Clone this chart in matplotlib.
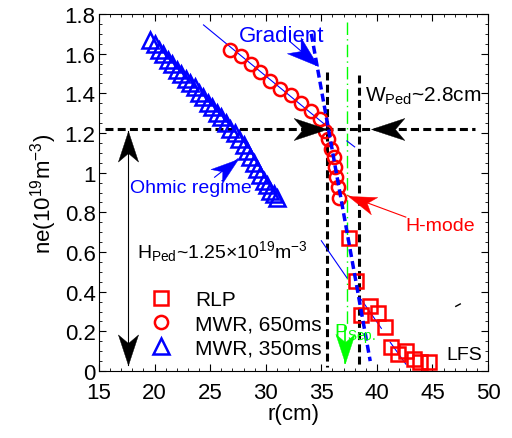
import numpy as np
import matplotlib
matplotlib.use('Agg')
import matplotlib.pyplot as plt
from matplotlib.ticker import MultipleLocator
from matplotlib.markers import MarkerStyle
from matplotlib.path import Path
from matplotlib.transforms import Affine2D

plt.rcParams['font.family'] = ['Liberation Sans', 'DejaVu Sans']
plt.rcParams['mathtext.fontset'] = 'custom'
plt.rcParams['mathtext.rm'] = 'Liberation Sans'
plt.rcParams['mathtext.it'] = 'Liberation Sans:italic'

# RLP (squares)
rlp_r = [37.5, 38.1, 38.6, 39.4, 40.1, 40.7, 41.3, 41.9, 42.6, 43.3, 43.9, 44.7]
rlp_ne = [0.67, 0.455, 0.28, 0.33, 0.29, 0.22, 0.12, 0.085, 0.10, 0.06, 0.045, 0.045]

# MWR 650 ms (circles)
mwr650_r = [26.8, 27.8, 28.7, 29.5, 30.4, 31.3, 32.3, 33.2, 34.1, 34.9,
            35.3, 35.6, 35.9, 36.1, 36.2, 36.3, 36.5, 36.6]
mwr650_ne = [1.62, 1.59, 1.55, 1.51, 1.46, 1.42, 1.39, 1.35, 1.31, 1.27,
             1.21, 1.17, 1.12, 1.08, 1.03, 0.98, 0.93, 0.87]

# MWR 350 ms (triangles)
mwr350_r = [19.6, 20.0, 20.4, 20.8, 21.2, 21.6, 22.0, 22.4, 22.8, 23.2, 23.6,
            24.0, 24.4, 24.8, 25.2, 25.6, 26.0, 26.4, 26.8, 27.2, 27.6, 28.0,
            28.3, 28.6, 28.9, 29.2, 29.5, 29.8, 30.1, 30.4, 30.7, 31.0]
mwr350_ne = [1.67, 1.65, 1.62, 1.60, 1.57, 1.55, 1.52, 1.50, 1.47, 1.45, 1.43,
             1.40, 1.38, 1.35, 1.33, 1.30, 1.28, 1.25, 1.22, 1.20, 1.17, 1.14,
             1.11, 1.08, 1.05, 1.02, 0.99, 0.96, 0.94, 0.91, 0.89, 0.87]

# fitted lines
grad_r = [34.1, 39.4]
grad_ne = [1.70, 0.05]
core_fit_r = [24.4, 35.6, np.nan, 37.3, 38.0]
core_fit_ne = [1.745, 1.23, np.nan, 1.16, 1.13]
sol_fit_r = [35.0, 37.3, np.nan, 38.6, 40.4, np.nan, 41.2, 42.6]
sol_fit_ne = [0.657, 0.47, np.nan, 0.36, 0.215, np.nan, 0.145, 0.035]

# pedestal markers
h_ped = 1.22
ped_in = 35.55
ped_out = 38.4
r_sep = 37.3

fig = plt.figure(figsize=(5.12, 4.39), dpi=100)
ax = fig.add_axes([0.1934, 0.1526, 0.7598, 0.8132])
ax.set_xlim(15, 50)
ax.set_ylim(0, 1.8)

# notched arrow head, tip at origin pointing to +x
head_path = Path([(0, 0), (-1, 0.33), (-0.72, 0), (-1, -0.33), (0, 0)],
                 [Path.MOVETO, Path.LINETO, Path.LINETO, Path.LINETO, Path.CLOSEPOLY])


def arrow(tail, tip, color, size=31, lw=0.8, both=False):
    ax.plot([tail[0], tip[0]], [tail[1], tip[1]], color=color, lw=lw)
    ends = [(tail, tip), (tip, tail)] if both else [(tail, tip)]
    for a, b in ends:
        p1 = ax.transData.transform(a)
        p2 = ax.transData.transform(b)
        ang = np.degrees(np.arctan2(p2[1] - p1[1], p2[0] - p1[0]))
        m = MarkerStyle(head_path, transform=Affine2D().rotate_deg(ang))
        ax.plot([b[0]], [b[1]], marker=m, ms=size, color=color, mew=0.3,
                linestyle='none', zorder=4)


dash = (0, (2.6, 1.4))
ax.plot([15.5, 48.8], [h_ped, h_ped], color='k', lw=2.2, linestyle=dash)
ax.plot([ped_in, ped_in], [1.51, 0.02], color='k', lw=2.2, linestyle=dash)
ax.plot([ped_out, ped_out], [1.49, 0.02], color='k', lw=2.2, linestyle=dash)
ax.plot([r_sep, r_sep], [1.76, 0.22], color='lime', lw=1.0, linestyle=(0, (9, 3, 1, 3)))

ax.plot(core_fit_r, core_fit_ne, color='blue', lw=0.8)
ax.plot(sol_fit_r, sol_fit_ne, color='blue', lw=0.8)

l1, = ax.plot(rlp_r, rlp_ne, 's', ms=10, mfc='none', mec='red', mew=1.8, label='RLP')
l2, = ax.plot(mwr650_r, mwr650_ne, 'o', ms=9.5, mfc='none', mec='red', mew=1.8,
              label='MWR, 650ms')
l3, = ax.plot(mwr350_r, mwr350_ne, '^', ms=11, mfc='none', mec='blue', mew=1.8,
              label='MWR, 350ms')

ax.plot(grad_r, grad_ne, color='blue', lw=2.5, linestyle=(0, (2.3, 1.2)))

# arrows
arrow((33.4, h_ped), (ped_in, h_ped), 'k', size=48, lw=0)
arrow((41.7, h_ped), (39.5, h_ped), 'k', size=48, lw=0)
arrow((17.6, 0.03), (17.6, 1.21), 'k', size=44, both=True)
arrow((32.2, 1.66), (34.7, 1.54), 'blue', size=46)
arrow((25.4, 0.977), (27.5, 1.07), 'blue', size=40)
arrow((42.6, 0.776), (37.4, 0.884), 'red', size=40)
arrow((37.1, 0.22), (37.1, 0.04), 'lime', size=42, lw=1.2)
ax.plot([47.1, 47.5], [0.326, 0.338], color='k', lw=1)

# texts
ax.text(31.4, 1.69, 'Gradient', color='blue', fontsize=16, ha='center', va='center')
ax.text(23.3, 0.926, 'Ohmic regime', color='blue', fontsize=14, ha='center', va='center')
ax.text(45.7, 0.733, 'H-mode', color='red', fontsize=14, ha='center', va='center')
ax.text(38.9, 1.39, r'W$_\mathrm{Ped}$~2.8cm', color='k', fontsize=15, ha='left',
        va='center')
ax.text(18.4, 0.607, r'H$_\mathrm{Ped}$~1.25×10$^{19}$m$^{-3}$', color='k', fontsize=14,
        ha='left', va='center')
ax.text(36.1, 0.19, r'P$_\mathrm{Sep.}$', color='lime', fontsize=14, ha='left', va='center')
ax.text(47.9, 0.085, 'LFS', color='k', fontsize=14, ha='center', va='center')

ax.legend(handles=[l1, l2, l3], loc='lower left', bbox_to_anchor=(0.07, -0.015),
          frameon=False, fontsize=15, handletextpad=0.9, labelspacing=0.25,
          handlelength=1.5)

ax.xaxis.set_major_locator(MultipleLocator(5))
ax.xaxis.set_minor_locator(MultipleLocator(1))
ax.set_yticks(np.arange(0, 1.81, 0.2))
ax.set_yticklabels(['0', '0.2', '0.4', '0.6', '0.8', '1', '1.2', '1.4', '1.6', '1.8'])
ax.yaxis.set_minor_locator(MultipleLocator(0.05))
ax.tick_params(which='both', direction='in', top=True, right=True, labelsize=16)
ax.tick_params(axis='x', pad=8)
ax.tick_params(axis='y', pad=2.5)
ax.tick_params(which='major', length=5)
ax.tick_params(which='minor', length=2.5)
ax.set_xlabel('r(cm)', fontsize=16, labelpad=0)
ax.set_ylabel(r'ne(10$^{19}$m$^{-3}$)', fontsize=16)

fig.savefig('out.png', dpi=100)
